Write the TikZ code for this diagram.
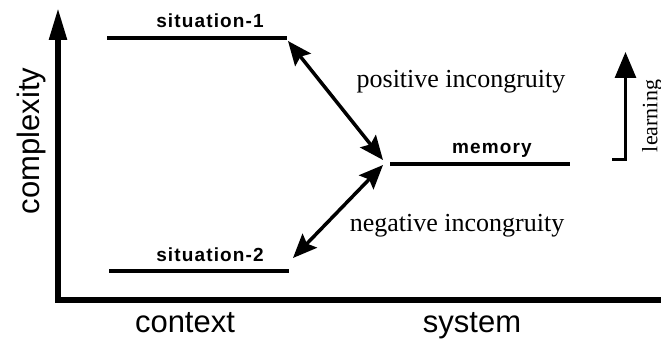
\documentclass[tikz,border=0pt]{standalone}
\usepackage{fontspec}
\setmainfont{Liberation Serif}
\setsansfont{Liberation Sans}
\newfontfamily\labfont[LetterSpace=6]{Liberation Sans Bold}
\usetikzlibrary{arrows.meta}
\begin{document}
\begin{tikzpicture}[x=1pt,y=-1pt,
  axis/.style={line width=5.5pt},
  level/.style={line width=4.5pt},
  incon/.style={line width=3.5pt,{Stealth[length=24pt,width=20pt,inset=4pt]}-{Stealth[length=24pt,width=20pt,inset=4pt]}},
  axlab/.style={font=\sffamily\fontsize{31}{33}\selectfont,inner sep=0pt},
  lvlab/.style={font=\labfont\fontsize{19}{20}\selectfont,inner sep=0pt},
  serlab/.style={font=\rmfamily\fontsize{26}{28}\selectfont,inner sep=0pt}]
\useasboundingbox (0,0) rectangle (661,339);
% axes
\coordinate (origin) at (58,300);
\coordinate (ytip) at (58,8);
\coordinate (xend) at (661,300);
\draw[axis,-{Triangle[length=32pt,width=17pt]}] (58,302.75) -- (ytip);
\draw[axis] (55.25,300) -- (xend);
% levels
\coordinate (s1l) at (107,38);
\coordinate (s1r) at (287,38);
\coordinate (s2l) at (109,271);
\coordinate (s2r) at (289,271);
\coordinate (ml) at (390,164);
\coordinate (mr) at (570,164);
\draw[level] (s1l) -- (s1r);
\draw[level] (s2l) -- (s2r);
\draw[level] (ml) -- (mr);
\node[lvlab,anchor=base] (sit1) at (210,28) {situation-1};
\node[lvlab,anchor=base] (sit2) at (210,261) {situation-2};
\node[lvlab,anchor=base] (mem) at (492,154) {memory};
% incongruity arrows
\coordinate (a1s) at (288,41);
\coordinate (a1e) at (383,160);
\coordinate (a2s) at (383,165);
\coordinate (a2e) at (293,258);
\draw[incon] (a1s) -- (a1e);
\draw[incon] (a2s) -- (a2e);
\node[serlab,anchor=base] (pos) at (461,88) {positive incongruity};
\node[serlab,anchor=base] (neg) at (457,232) {negative incongruity};
% learning
\coordinate (lfoot) at (612,160);
\coordinate (lcorner) at (625.5,160);
\coordinate (ltip) at (625.5,52);
\draw[line width=3pt,-{Triangle[length=26pt,width=21pt]}] (lfoot) -- (lcorner) -- (ltip);
\node[font=\rmfamily\fontsize{22}{24}\selectfont,inner sep=0pt,rotate=90] (learn) at (652,116) {learning};
% axis labels
\node[axlab,rotate=90] (cx) at (31,141) {complexity};
\node[axlab,anchor=base] (ctx) at (185,332) {context};
\node[axlab,anchor=base] (sys) at (472,332) {system};
\end{tikzpicture}
\end{document}
